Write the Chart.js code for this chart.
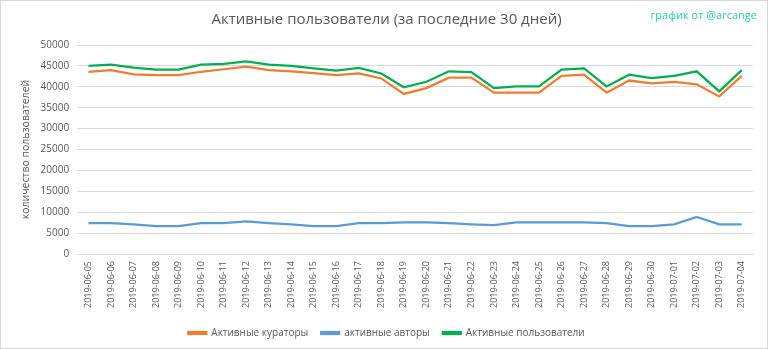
<!DOCTYPE html>
<html lang="ru">
<head>
<meta charset="utf-8" />
<title>Активные пользователи</title>
<script src="https://cdn.jsdelivr.net/npm/chart.js"></script>
<style>
  html, body { margin: 0; padding: 0; background: #fff; }
  #wrap { position: relative; width: 766px; height: 347px; border: 1px solid #d9d9d9; }
  #credit { position: absolute; right: 10px; top: 6px; font: 11px "Open Sans", sans-serif; color: #2ec9a0; }
</style>
</head>
<body>
<div id="wrap">
  <canvas id="grafico" width="766" height="347"></canvas>
  <div id="credit">график от @arcange</div>
</div>
<script>
const dias = ['2019-06-05','2019-06-06','2019-06-07','2019-06-08','2019-06-09','2019-06-10',
  '2019-06-11','2019-06-12','2019-06-13','2019-06-14','2019-06-15','2019-06-16','2019-06-17',
  '2019-06-18','2019-06-19','2019-06-20','2019-06-21','2019-06-22','2019-06-23','2019-06-24',
  '2019-06-25','2019-06-26','2019-06-27','2019-06-28','2019-06-29','2019-06-30','2019-07-01',
  '2019-07-02','2019-07-03','2019-07-04'];

// активные кураторы
const kuratory = [43600,44000,43000,42800,42800,43600,44200,44800,44000,43700,43300,42800,43200,
  42000,38300,39700,42200,42200,38600,38600,38600,42600,42900,38600,41500,40800,41200,40600,37700,42600];

// активные авторы
const avtory = [7400,7400,7100,6700,6700,7400,7400,7800,7400,7100,6700,6700,7400,
  7400,7600,7600,7400,7100,6900,7600,7600,7600,7600,7400,6700,6700,7100,8900,7100,7100];

// активные пользователи
const polzovateli = [45000,45300,44600,44100,44100,45300,45500,46100,45300,45000,44400,43900,44500,
  43200,39900,41200,43700,43500,39700,40100,40100,44100,44400,40100,42900,42100,42600,43700,38900,44000];

const yTicks = { min: 0, max: 50000, step: 5000 };

const gris = '#595959';
const fuente = 'Open Sans';

new Chart(document.getElementById('grafico'), {
  type: 'line',
  data: {
    labels: dias,
    datasets: [
      { label: 'Активные кураторы', data: kuratory, borderColor: '#ED7D31', backgroundColor: '#ED7D31' },
      { label: 'активные авторы', data: avtory, borderColor: '#5B9BD5', backgroundColor: '#5B9BD5' },
      { label: 'Активные пользователи', data: polzovateli, borderColor: '#00B050', backgroundColor: '#00B050' }
    ]
  },
  options: {
    responsive: false,
    animation: false,
    elements: {
      line: { borderWidth: 2.25, tension: 0 },
      point: { radius: 0 }
    },
    layout: { padding: { left: 19, right: 14, top: 6, bottom: 0 } },
    plugins: {
      title: {
        display: true,
        text: 'Активные пользователи (за последние 30 дней)',
        color: gris,
        font: { family: fuente, size: 15, weight: 'normal' },
        padding: { top: 4, bottom: 16 }
      },
      legend: {
        position: 'bottom',
        labels: {
          color: gris,
          font: { family: fuente, size: 10 },
          boxWidth: 18,
          boxHeight: 2,
          padding: 13
        }
      },
      tooltip: { enabled: false }
    },
    scales: {
      x: {
        offset: true,
        grid: { display: false, drawTicks: false },
        border: { color: '#d9d9d9' },
        ticks: {
          color: gris,
          font: { family: fuente, size: 9 },
          minRotation: 90,
          maxRotation: 90,
          autoSkip: false,
          padding: 7
        }
      },
      y: {
        min: yTicks.min,
        max: yTicks.max,
        grid: { color: '#d9d9d9', drawTicks: false },
        border: { display: false },
        ticks: {
          stepSize: yTicks.step,
          color: gris,
          font: { family: fuente, size: 10 },
          padding: 8,
          callback: v => String(v)
        },
        title: {
          display: true,
          text: 'количество пользователей',
          color: gris,
          font: { family: fuente, size: 10.5 },
          padding: { top: 0, bottom: 0 }
        }
      }
    }
  }
});
</script>
</body>
</html>
